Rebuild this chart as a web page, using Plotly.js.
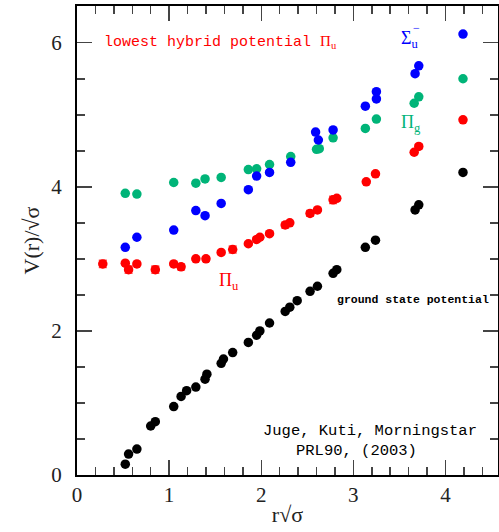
<!DOCTYPE html>
<html>
<head>
<meta charset="utf-8">
<script src="https://cdn.plot.ly/plotly-3.0.1.min.js"></script>
<style>html,body{margin:0;padding:0;background:#fff;}#chart{width:499px;height:532px;}</style>
</head>
<body>
<div id="chart"></div>
<script>
// ground state potential
const groundX = [0.524,0.56,0.65,0.80,0.85,1.05,1.13,1.19,1.29,1.39,1.41,1.565,1.59,1.69,1.86,1.95,1.985,2.09,2.26,2.31,2.39,2.53,2.61,2.78,2.82,3.13,3.24,3.67,3.71,4.19];
const groundY = [0.15,0.29,0.36,0.68,0.74,0.95,1.09,1.17,1.22,1.33,1.40,1.55,1.61,1.70,1.84,1.94,2.00,2.11,2.27,2.33,2.42,2.55,2.62,2.80,2.85,3.16,3.26,3.68,3.75,4.20];
// lowest hybrid potential Pi_u
const piuX = [0.28,0.524,0.56,0.65,0.85,1.05,1.13,1.29,1.40,1.565,1.69,1.86,1.95,1.985,2.09,2.26,2.31,2.53,2.61,2.78,2.82,3.14,3.24,3.66,3.71,4.19];
const piuY = [2.93,2.94,2.85,2.93,2.85,2.93,2.89,3.00,3.00,3.09,3.13,3.21,3.27,3.30,3.35,3.47,3.50,3.63,3.68,3.82,3.84,4.07,4.18,4.48,4.56,4.93];
const piuErr = [0.05,0.02,0.05,0.02,0.05,0.02,0.04,0.02,0.03,0.02,0.05,0.02,0.03,0.02,0.02,0.04,0.02,0.04,0.02,0.05,0.03,0.02,0.02,0.02,0.03,0.02];
// Sigma_u^-
const sigX = [0.524,0.65,1.05,1.29,1.39,1.565,1.86,1.95,2.09,2.32,2.59,2.62,2.78,3.13,3.25,3.25,3.67,3.71,4.19];
const sigY = [3.16,3.30,3.40,3.67,3.60,3.77,3.96,4.15,4.20,4.34,4.76,4.65,4.79,5.12,5.32,5.22,5.57,5.68,6.12];
// Pi_g
const pigX = [0.524,0.65,1.05,1.29,1.39,1.565,1.86,1.95,2.09,2.32,2.60,2.63,2.78,3.13,3.25,3.66,3.71,4.19];
const pigY = [3.91,3.90,4.06,4.05,4.11,4.13,4.24,4.25,4.31,4.42,4.52,4.53,4.68,4.81,4.94,5.16,5.25,5.50];

const xTitle = 'r√σ';
const yTitle = 'V(r)/√σ';

const RED = '#ff0000', BLUE = '#0000ff', GREEN = '#00b478', BLACK = '#000000';
const MS = 9.5;

const traces = [
  {x: pigX, y: pigY, type:'scatter', mode:'markers', marker:{color:GREEN, size:MS}, hoverinfo:'skip'},
  {x: sigX, y: sigY, type:'scatter', mode:'markers', marker:{color:BLUE, size:MS}, hoverinfo:'skip'},
  {x: piuX, y: piuY, type:'scatter', mode:'markers', marker:{color:RED, size:MS},
   error_y:{type:'data', array:piuErr, visible:true, color:'#ff5050', thickness:1.5, width:4}, hoverinfo:'skip'},
  {x: groundX, y: groundY, type:'scatter', mode:'markers', marker:{color:BLACK, size:MS}, hoverinfo:'skip'}
];

const serif = 'Liberation Serif, DejaVu Serif, serif';
const mono = 'Liberation Mono, DejaVu Sans Mono, monospace';

function axis(range, dtick, minorDtick, standoff) {
  return {
    range: range, autorange: false, dtick: dtick, tick0: 0,
    ticks: 'inside', ticklen: 15, tickwidth: 1.5, tickcolor: '#444',
    minor: {dtick: minorDtick, tick0: 0, ticks: 'inside', ticklen: 8, tickwidth: 1.5, tickcolor: '#444', showgrid:false},
    showline: true, linewidth: 2, linecolor: '#000', mirror: 'allticks',
    showgrid: false, zeroline: false,
    tickfont: {family: serif, size: 21, color: '#222'},
    ticklabelstandoff: standoff
  };
}

const xaxis = axis([0, 4.57], 1, 0.2, 0);
xaxis.title = {text: xTitle, font: {family: serif, size: 22, color: '#222'}, standoff: 0};
const yaxis = axis([0, 6.51], 2, 0.5, 9);
yaxis.title = {text: yTitle, font: {family: serif, size: 22, color: '#222'}, standoff: 6};

const layout = {
  width: 499, height: 532,
  margin: {l: 77, r: 1, t: 6, b: 57},
  paper_bgcolor: '#fff', plot_bgcolor: '#fff',
  showlegend: false,
  xaxis: xaxis, yaxis: yaxis,
  annotations: [
    {x: 0.271, y: 6.01, xref:'x', yref:'y', xanchor:'left', yanchor:'middle', showarrow:false,
     text: 'lowest hybrid potential <span style="font-family:Liberation Serif">Π<sub>u</sub></span>',
     font:{family: mono, size: 15, color: RED}},
    {x: 3.49, y: 6.05, xref:'x', yref:'y', xanchor:'left', yanchor:'middle', showarrow:false,
     text: 'Σ<sub>u</sub>', font:{family: serif, size: 18, color: BLUE}},
    {x: 3.625, y: 6.20, xref:'x', yref:'y', xanchor:'left', yanchor:'middle', showarrow:false,
     text: '−', font:{family: serif, size: 12, color: BLUE}},
    {x: 3.50, y: 4.88, xref:'x', yref:'y', xanchor:'left', yanchor:'middle', showarrow:false,
     text: 'Π<sub>g</sub>', font:{family: serif, size: 18, color: GREEN}},
    {x: 1.52, y: 2.68, xref:'x', yref:'y', xanchor:'left', yanchor:'middle', showarrow:false,
     text: 'Π<sub>u</sub>', font:{family: serif, size: 18, color: RED}},
    {x: 2.80, y: 2.44, xref:'x', yref:'y', xanchor:'left', yanchor:'middle', showarrow:false,
     text: '<b>ground state potential</b>', font:{family: mono, size: 11.5, color: BLACK}},
    {x: 3.18, y: 0.61, xref:'x', yref:'y', xanchor:'center', yanchor:'middle', showarrow:false,
     text: 'Juge, Kuti, Morningstar', font:{family: mono, size: 15.5, color: BLACK}},
    {x: 3.03, y: 0.335, xref:'x', yref:'y', xanchor:'center', yanchor:'middle', showarrow:false,
     text: 'PRL90, (2003)', font:{family: mono, size: 15.5, color: BLACK}}
  ]
};

Plotly.newPlot('chart', traces, layout, {staticPlot: true, displayModeBar: false});
</script>
</body>
</html>
